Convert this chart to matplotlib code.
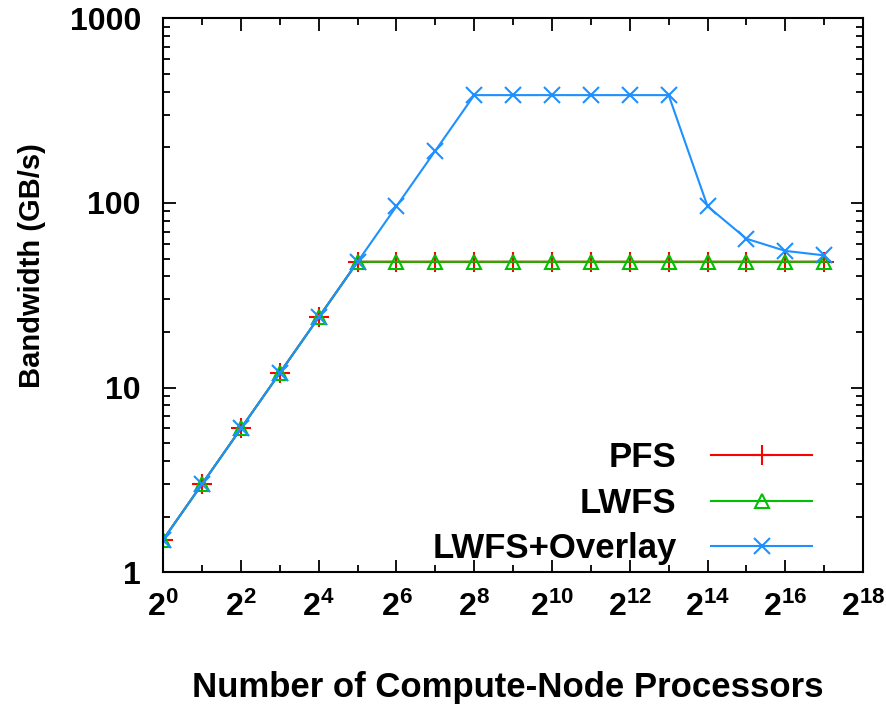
import matplotlib
matplotlib.use("Agg")
import matplotlib.pyplot as plt
import numpy as np
from matplotlib.ticker import FixedLocator, LogLocator, NullFormatter

plt.rcParams['font.family'] = ['Liberation Sans', 'DejaVu Sans']
plt.rcParams['font.weight'] = 'bold'
plt.rcParams['mathtext.fontset'] = 'custom'
plt.rcParams['mathtext.rm'] = 'Liberation Sans:bold'
plt.rcParams['mathtext.it'] = 'Liberation Sans:bold'
plt.rcParams['mathtext.bf'] = 'Liberation Sans:bold'

# exponents of 2 for number of compute-node processors
exps = list(range(0, 18))
pfs = [1.5, 3, 6, 12, 24, 48, 48, 48, 48, 48, 48, 48, 48, 48, 48, 48, 48, 48]
lwfs = [1.5, 3, 6, 12, 24, 48, 48, 48, 48, 48, 48, 48, 48, 48, 48, 48, 48, 48]
overlay = [1.5, 3, 6, 12, 24, 48, 96, 192, 384, 384, 384, 384, 384, 384, 96, 64, 55, 52]

procs = [2 ** e for e in exps]

fig = plt.figure(figsize=(8.87, 7.08), dpi=100)
ax = fig.add_axes([0.184, 0.192, 0.789, 0.782])

ax.plot(procs, pfs, color='#ff0000', marker='+', markersize=14, mew=1.5, lw=1.5, label='PFS')
ax.plot(procs, lwfs, color='#00c000', marker='^', markersize=10, mfc='none', mew=1.5, lw=1.5, label='LWFS')
ax.plot(procs, overlay, color='#1e90ff', marker='x', markersize=12, mew=1.5, lw=1.5, label='LWFS+Overlay')

ax.set_xscale('log', base=2)
ax.set_yscale('log')
ax.set_xlim(2 ** 0, 2 ** 18)
ax.set_ylim(1, 1000)

major_x = [2 ** e for e in range(0, 19, 2)]
ax.xaxis.set_major_locator(FixedLocator(major_x))
ax.xaxis.set_minor_locator(FixedLocator([2 ** e for e in range(1, 18, 2)]))
ax.set_xticklabels([r'$2^{%d}$' % e for e in range(0, 19, 2)])
ax.xaxis.set_minor_formatter(NullFormatter())
ax.yaxis.set_minor_locator(LogLocator(base=10, subs=np.arange(2, 10), numticks=10))
ax.yaxis.set_minor_formatter(NullFormatter())
ax.set_yticks([1, 10, 100, 1000])
ax.set_yticklabels(['1', '10', '100', '1000'])

ax.tick_params(which='both', direction='in', top=True, right=True, width=1.3)
ax.tick_params(which='major', length=9)
ax.tick_params(which='minor', length=5)
ax.tick_params(axis='x', which='major', labelsize=23, pad=14)
ax.tick_params(axis='y', which='major', labelsize=23, pad=16)
for sp in ax.spines.values():
    sp.set_linewidth(1.5)

ax.set_xlabel('Number of Compute-Node Processors', fontsize=25, fontweight='bold', va='center')
ax.xaxis.set_label_coords(0.493, -0.208)
ax.set_ylabel('Bandwidth (GB/s)', fontsize=21, fontweight='bold')
ax.yaxis.set_label_coords(-0.168, 0.554)

ax.legend(loc='lower right', bbox_to_anchor=(0.927, 0.012), frameon=False, markerfirst=False,
          handlelength=2.9, handletextpad=1.0, borderaxespad=0, borderpad=0, labelspacing=0.36,
          prop={'weight': 'bold', 'size': 25})

fig.savefig('out.png', dpi=100)
